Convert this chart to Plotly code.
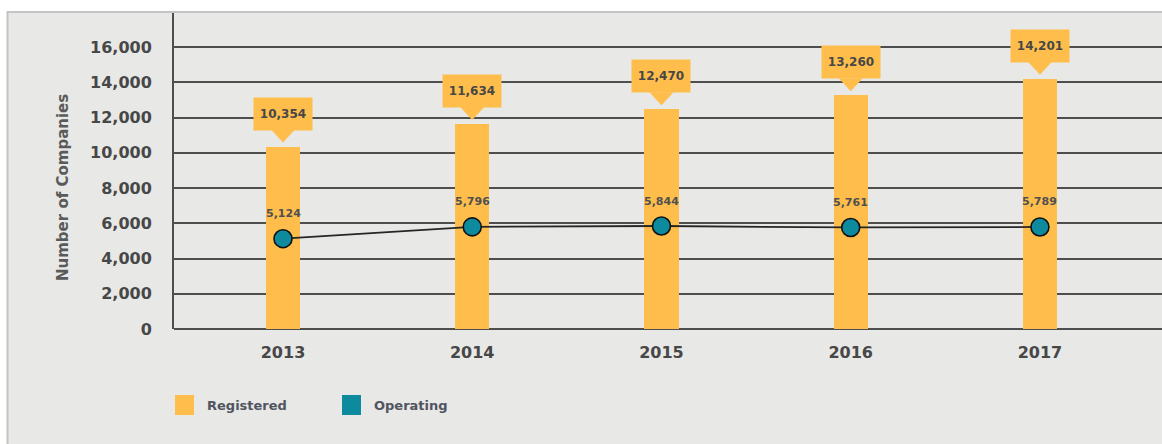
import plotly.graph_objects as go

years = ["2013", "2014", "2015", "2016", "2017"]
registered = [10354, 11634, 12470, 13260, 14201]
operating = [5124, 5796, 5844, 5761, 5789]
reg_labels = ["10,354", "11,634", "12,470", "13,260", "14,201"]
op_labels = ["5,124", "5,796", "5,844", "5,761", "5,789"]
yticks = [0, 2000, 4000, 6000, 8000, 10000, 12000, 14000, 16000]

ORANGE = "#FFBE4C"
TEAL = "#0E8A9F"
BG = "#E8E8E6"
GRID = "#4E4E4E"
TXT = "#474747"
FONT = "DejaVu Sans"

W, H = 1162, 444
L, R, T, B = 174, 0, 13, 115
PW, PH = W - L - R, H - T - B

def px(xp):
    return (xp - L) / PW

def py(yp):
    return (H - B - yp) / PH

xs = list(range(len(years)))

fig = go.Figure()
fig.add_trace(go.Bar(x=xs, y=registered, width=0.18, marker=dict(color=ORANGE, line=dict(width=0)),
                     name="Registered", showlegend=False, hoverinfo="y"))
fig.add_trace(go.Scatter(x=xs, y=operating, mode="lines+markers", name="Operating", showlegend=False,
                         line=dict(color="#262626", width=1.8),
                         marker=dict(size=18, color=TEAL, line=dict(color="#111111", width=1.6))))

shapes = []
annotations = []
# background frame
shapes.append(dict(type="rect", xref="paper", yref="paper", x0=px(7.5), x1=1.2, y0=-0.6, y1=py(12),
                   fillcolor=BG, line=dict(color="#C4C4C4", width=2), layer="below"))

for i, (v, lab) in enumerate(zip(registered, reg_labels)):
    annotations.append(dict(x=i, y=v, xref="x", yref="y", text="<b>" + lab + "</b>", showarrow=False,
                            yanchor="bottom", yshift=16, width=56, height=30, bgcolor=ORANGE,
                            font=dict(family=FONT, size=12, color=TXT)))
    shapes.append(dict(type="path", xref="x", yref="y", xsizemode="pixel", ysizemode="pixel",
                       xanchor=i, yanchor=v, path="M -12 17 L 12 17 L 0 4 Z",
                       fillcolor=ORANGE, line=dict(width=0)))

for i, (v, lab) in enumerate(zip(operating, op_labels)):
    annotations.append(dict(x=i, y=v, xref="x", yref="y", text="<b>" + lab + "</b>", showarrow=False,
                            yanchor="middle", yshift=25,
                            font=dict(family=FONT, size=11, color="#505050")))

# y-axis title
annotations.append(dict(x=px(52), y=8000, xref="paper", yref="y", text="<b>Number of Companies</b>",
                        textangle=-90, showarrow=False, font=dict(family=FONT, size=15, color="#5A5A5A")))

# legend
for x0, color, label in [(175, ORANGE, "Registered"), (342, TEAL, "Operating")]:
    shapes.append(dict(type="rect", xref="paper", yref="paper", x0=px(x0), x1=px(x0 + 19),
                       y0=py(415), y1=py(395), fillcolor=color, line=dict(width=0)))
    annotations.append(dict(x=px(x0 + 30), y=py(405), xref="paper", yref="paper", xanchor="left",
                            yanchor="middle", text="<b>" + label + "</b>", showarrow=False,
                            font=dict(family=FONT, size=13, color="#505560")))

fig.update_layout(
    width=W, height=H,
    margin=dict(l=L, r=R, t=T, b=B, pad=0),
    paper_bgcolor="white", plot_bgcolor="rgba(0,0,0,0)",
    shapes=shapes, annotations=annotations,
    bargap=0,
    xaxis=dict(range=[-0.576, 4.645], tickvals=xs, ticktext=years, showgrid=False, zeroline=False,
               showline=False, ticks="", ticklabelstandoff=12,
               tickfont=dict(family=FONT, size=16, color=TXT, weight="bold"), fixedrange=True),
    yaxis=dict(range=[0, 316 / 0.017625], tickvals=yticks, tickformat=",", showgrid=True,
               gridcolor=GRID, gridwidth=2, zeroline=True, zerolinecolor=GRID, zerolinewidth=2,
               showline=True, linecolor=GRID, linewidth=2, ticks="", ticklabelstandoff=17,
               tickfont=dict(family=FONT, size=16, color=TXT, weight="bold"), fixedrange=True),
)

fig.write_html("out.html", config={"displayModeBar": False},
               post_script="document.body.style.margin='0';document.body.style.overflow='hidden';")
